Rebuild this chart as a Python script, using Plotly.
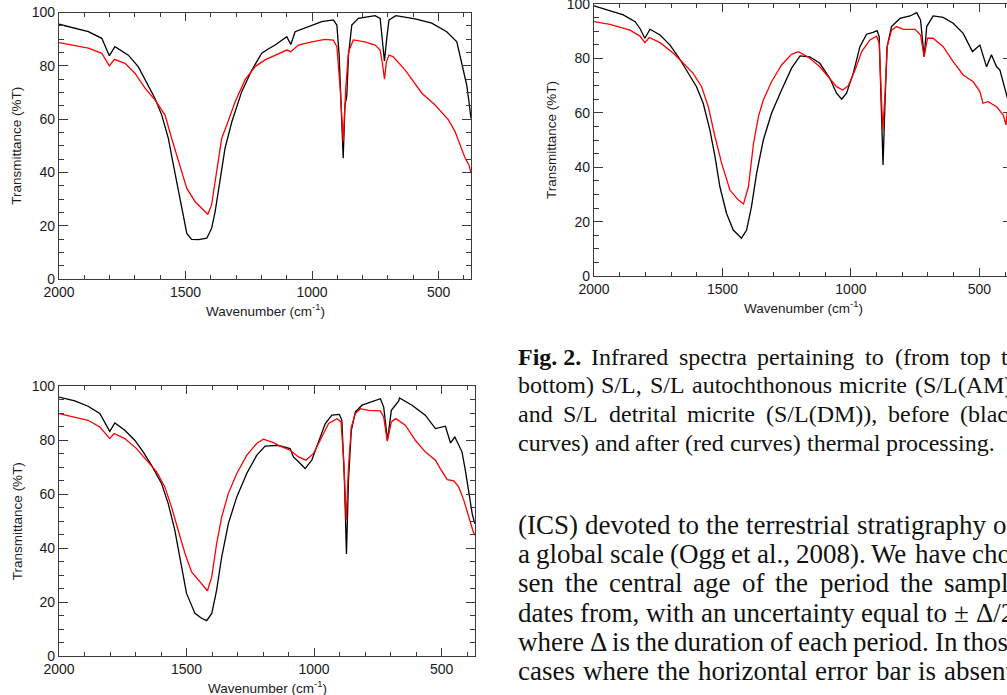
import plotly.graph_objects as go

W, H = 1024, 695          # figure is slightly wider than the 1007 px window (reference is cropped at the right)

# ---------------- data ----------------
# Panel 1 : S/L
p1_black_wn = [2000, 1884, 1831, 1801, 1779, 1726, 1687, 1647, 1621, 1594, 1568, 1548, 1528, 1509, 1495, 1476, 1449,
               1416, 1397, 1383, 1364, 1344, 1317, 1278, 1238, 1199, 1170, 1146, 1100, 1084, 1067, 1015, 962, 916, 902,
               893, 885, 877, 870, 863, 856, 843, 817, 751, 731, 722, 714, 705, 696, 669, 593, 527, 468, 428, 408, 389,
               380, 372]
p1_black_T = [95.6, 92.8, 90.3, 83.8, 87.2, 84.0, 79.7, 72.8, 67.8, 61.5, 52.8, 42.8, 32.8, 22.8, 17.1, 14.9, 14.8,
              15.3, 19.0, 25.3, 37.8, 49.0, 59.0, 70.3, 78.4, 84.7, 86.5, 87.8, 90.9, 88.0, 92.8, 94.7, 96.6, 97.2, 95.3,
              84.0, 61.5, 45.3, 65.3, 68.4, 84.0, 95.3, 97.8, 98.8, 97.8, 90.3, 81.8, 90.3, 97.2, 98.8, 97.6, 96.0, 92.8,
              89.0, 80.3, 72.8, 66.5, 60.3]
p1_red_wn = [2000, 1884, 1831, 1801, 1781, 1739, 1700, 1660, 1621, 1581, 1555, 1528, 1495, 1462, 1430, 1412, 1397,
             1377, 1357, 1337, 1304, 1265, 1225, 1186, 1146, 1100, 1084, 1054, 1001, 949, 916, 902, 889, 877, 867, 856,
             837, 791, 751, 731, 722, 714, 706, 696, 679, 632, 566, 514, 461, 435, 415, 395, 380, 372]
p1_red_T = [88.7, 86.6, 84.7, 80.0, 82.4, 80.9, 77.2, 71.6, 67.2, 61.5, 52.8, 44.0, 34.0, 29.0, 25.9, 24.3, 27.8,
            40.3, 52.8, 57.8, 66.5, 74.7, 79.7, 82.2, 84.0, 85.9, 85.3, 87.8, 89.0, 89.9, 89.6, 87.2, 71.6, 51.5, 71.6,
            85.3, 89.7, 89.0, 87.8, 85.9, 80.9, 75.0, 81.5, 84.0, 83.4, 78.4, 69.7, 65.3, 59.7, 55.3, 50.3, 45.3, 42.8,
            39.7]

# Panel 2 : S/L(AM)
p2_black_wn = [2000, 1938, 1886, 1840, 1821, 1802, 1782, 1743, 1704, 1672, 1639, 1601, 1575, 1549, 1529, 1510, 1484,
               1458, 1426, 1406, 1387, 1367, 1341, 1309, 1270, 1231, 1198, 1160, 1121, 1082, 1056, 1036, 1017, 991, 965,
               939, 914, 898, 890, 882, 875, 867, 859, 842, 809, 770, 744, 729, 715, 705, 680, 641, 602, 563, 527, 498,
               485, 472, 453, 433, 420, 404, 394, 380]
p2_black_T = [99.3, 97.5, 96.0, 93.5, 91.0, 87.4, 90.7, 88.6, 84.9, 80.6, 75.7, 69.6, 63.5, 53.7, 43.9, 32.8, 23.0,
              16.9, 13.9, 16.9, 25.5, 37.8, 50.0, 59.8, 68.4, 76.4, 80.9, 80.6, 78.2, 72.7, 67.2, 65.0, 67.2, 74.5, 84.3,
              88.9, 89.6, 90.2, 88.0, 64.7, 40.8, 64.7, 84.3, 91.7, 94.7, 95.6, 96.8, 94.1, 80.6, 91.7, 95.6, 95.1, 92.9,
              89.2, 82.5, 84.9, 81.3, 76.9, 81.3, 76.9, 75.7, 69.6, 66.5, 62.0]
p2_red_wn = [2000, 1938, 1860, 1821, 1802, 1785, 1743, 1691, 1652, 1614, 1581, 1555, 1529, 1503, 1471, 1438, 1418,
             1399, 1379, 1360, 1341, 1309, 1270, 1231, 1205, 1165, 1121, 1082, 1056, 1032, 1010, 984, 958, 926, 900,
             890, 882, 876, 867, 859, 842, 822, 796, 750, 729, 715, 702, 680, 641, 602, 563, 524, 498, 486, 466, 433,
             407, 396, 392, 380]
p2_red_T = [93.5, 92.5, 90.4, 88.2, 85.8, 87.7, 85.8, 81.9, 78.2, 74.5, 69.6, 62.2, 51.2, 41.4, 31.6, 27.9, 26.5,
            32.8, 48.8, 58.6, 64.7, 71.4, 77.6, 81.5, 82.5, 80.4, 76.9, 72.7, 69.6, 68.4, 69.9, 75.7, 82.5, 86.8, 88.2,
            85.5, 64.7, 53.7, 67.2, 84.3, 90.4, 91.7, 90.7, 90.7, 88.6, 80.6, 87.4, 87.4, 84.3, 78.8, 73.9, 71.4, 67.8,
            63.5, 64.1, 62.2, 59.2, 55.5, 60.0, 53.0]

# Panel 3 : S/L(DM)
p3_black_wn = [2000, 1938, 1886, 1840, 1801, 1781, 1742, 1703, 1670, 1637, 1598, 1572, 1546, 1519, 1500, 1467, 1441,
               1421, 1401, 1382, 1362, 1336, 1303, 1264, 1225, 1192, 1159, 1140, 1094, 1081, 1061, 1035, 1009, 983, 956,
               930, 901, 891, 881, 873, 865, 854, 838, 812, 773, 740, 727, 712, 697, 668, 665, 616, 564, 524, 485, 465,
               448, 433, 420, 407, 391, 380, 370]
p3_black_T = [96.0, 94.6, 92.6, 89.9, 83.3, 86.4, 83.7, 80.0, 75.7, 70.7, 64.0, 56.6, 46.7, 33.1, 23.2, 15.8, 14.0,
              13.1, 15.8, 24.4, 36.8, 49.1, 59.0, 67.7, 74.4, 77.8, 78.1, 78.1, 76.9, 73.8, 72.0, 69.5, 72.6, 79.4, 86.2,
              89.3, 89.6, 87.4, 65.2, 37.8, 65.2, 83.7, 90.5, 93.0, 94.2, 95.4, 92.3, 80.0, 91.1, 94.6, 95.7, 93.0, 89.3,
              84.3, 85.2, 79.0, 81.2, 78.1, 75.7, 68.9, 60.3, 52.8, 49.1]
p3_red_wn = [2000, 1938, 1886, 1840, 1801, 1784, 1742, 1696, 1657, 1617, 1585, 1559, 1533, 1506, 1480, 1447, 1418,
             1401, 1382, 1362, 1336, 1303, 1264, 1225, 1199, 1159, 1140, 1094, 1061, 1032, 1002, 976, 943, 910, 894,
             883, 874, 865, 854, 838, 818, 786, 740, 727, 713, 697, 680, 642, 603, 564, 524, 505, 478, 452, 433, 413,
             394, 378, 370]
p3_red_T = [89.9, 88.6, 87.4, 84.9, 80.6, 82.5, 80.6, 76.9, 72.6, 68.3, 62.7, 55.3, 46.7, 38.0, 31.2, 27.5, 24.2,
            29.4, 41.7, 51.6, 60.3, 67.7, 74.4, 78.8, 80.4, 79.1, 78.1, 76.3, 73.8, 72.6, 75.1, 80.0, 86.2, 88.0, 86.8,
            71.4, 50.4, 70.1, 84.9, 89.9, 91.7, 91.1, 90.9, 88.6, 79.7, 86.8, 88.0, 85.6, 80.0, 75.7, 72.6, 69.5, 65.4,
            64.9, 62.7, 57.8, 51.6, 46.7, 44.8]

x_tick_vals = [2000, 1500, 1000, 500]
y_tick_vals = [0, 20, 40, 60, 80, 100]
x_title = "Wavenumber (cm<sup>-1</sup>)"
y_title = "Transmittance (%T)"

caption_lines = [
    ("Fig. 2. Infrared spectra pertaining to (from top to", True),
    ("bottom) S/L, S/L autochthonous micrite (S/L(AM))", True),
    ("and S/L detrital micrite (S/L(DM)), before (black", True),
    ("curves) and after (red curves) thermal processing.", False),
]
body_lines = [
    ("(ICS) devoted to the terrestrial stratigraphy on", True),
    ("a global scale (Ogg et al., 2008). We have cho-", True),
    ("sen the central age of the period the sample", True),
    ("dates from, with an uncertainty equal to \u00b1 \u0394/2,", True),
    ("where \u0394 is the duration of each period. In those", True),
    ("cases where the horizontal error bar is absent,", True),
]

# ---------------- layout geometry (pixels) ----------------
panels = [
    dict(l=59, r=471, t=12.5, b=279, xend=372, black=(p1_black_wn, p1_black_T), red=(p1_red_wn, p1_red_T)),
    dict(l=594, r=1012, t=4, b=276, xend=373, black=(p2_black_wn, p2_black_T), red=(p2_red_wn, p2_red_T)),
    dict(l=59, r=475, t=386.3, b=656, xend=369, black=(p3_black_wn, p3_black_T), red=(p3_red_wn, p3_red_T)),
]

fig = go.Figure()
AX = "#3a3a3a"
SANS = "Liberation Sans, Arial, sans-serif"
TICKFONT = dict(family=SANS, size=14, color="#1a1a1a")
annotations = []

for i, p in enumerate(panels, start=1):
    xa = "x" if i == 1 else f"x{i}"
    ya = "y" if i == 1 else f"y{i}"
    fig.add_trace(go.Scatter(x=p["black"][0], y=p["black"][1], mode="lines",
                             line=dict(color="black", width=1.3), xaxis=xa, yaxis=ya, showlegend=False))
    fig.add_trace(go.Scatter(x=p["red"][0], y=p["red"][1], mode="lines",
                             line=dict(color="#ff0000", width=1.3), xaxis=xa, yaxis=ya, showlegend=False))
    xkey = "xaxis" if i == 1 else f"xaxis{i}"
    ykey = "yaxis" if i == 1 else f"yaxis{i}"
    common = dict(showline=True, linecolor=AX, linewidth=1.2, mirror="allticks", ticks="inside",
                  tickcolor=AX, tickwidth=1.2, showgrid=False, zeroline=False, tickfont=TICKFONT,
                  automargin=False, fixedrange=True, ticklabeloverflow="allow")
    fig.update_layout(**{
        xkey: dict(domain=[p["l"] / W, p["r"] / W], range=[2000, p["xend"]], anchor=ya,
                   tickmode="array", tickvals=x_tick_vals, ticklen=8,
                   minor=dict(dtick=100, tick0=0, ticklen=4, ticks="inside", tickcolor=AX, tickwidth=1.2),
                   **common),
        ykey: dict(domain=[1 - p["b"] / H, 1 - p["t"] / H], range=[0, 100], anchor=xa,
                   tickmode="array", tickvals=y_tick_vals, ticklen=9,
                   minor=dict(dtick=5, tick0=0, ticklen=5, ticks="inside", tickcolor=AX, tickwidth=1.2),
                   **common),
    })
    cx = (p["l"] + p["r"]) / 2
    annotations.append(dict(text=x_title, x=cx / W, y=1 - (p["b"] + 31) / H, xref="paper", yref="paper",
                            showarrow=False, xanchor="center", yanchor="middle",
                            font=dict(family=SANS, size=13.5, color="#1a1a1a")))
    annotations.append(dict(text=y_title, x=(p["l"] - 42) / W, y=1 - (p["t"] + p["b"]) / 2 / H,
                            xref="paper", yref="paper", showarrow=False, textangle=-90,
                            xanchor="center", yanchor="middle",
                            font=dict(family=SANS, size=13.5, color="#1a1a1a")))

# ---------------- justified text (Times metrics) ----------------
TIMES = {' ': 250, '(': 333, ')': 333, ',': 250, '-': 333, '.': 250, '/': 278, 'A': 722, 'C': 667, 'D': 722,
         'F': 556, 'I': 333, 'L': 611, 'M': 889, 'O': 722, 'S': 556, 'W': 944, 'a': 444, 'b': 500, 'c': 444,
         'd': 500, 'e': 444, 'f': 333, 'g': 500, 'h': 500, 'i': 278, 'k': 500, 'l': 278, 'm': 778, 'n': 500,
         'o': 500, 'p': 500, 'r': 333, 's': 389, 't': 278, 'u': 500, 'v': 500, 'w': 722, 'x': 500, 'y': 500,
         'z': 444, '\u00b1': 564, '\u0394': 612}
for d in "0123456789":
    TIMES[d] = 500


def wwidth(word, size):
    return sum(TIMES.get(ch, 500) for ch in word) / 1000 * size


COL_L, COL_R = 517, 1019


def place_lines(lines, size, y0, dy):
    for k, (line, justify) in enumerate(lines):
        words = line.split(" ")
        if line.startswith("Fig. 2."):
            words = ["Fig. 2."] + words[2:]
        widths = [wwidth(w, size) for w in words]
        if justify and len(words) > 1:
            gap = (COL_R - COL_L - sum(widths)) / (len(words) - 1)
        else:
            gap = 0.25 * size
        x = COL_L
        yc = y0 + k * dy
        for w, ww in zip(words, widths):
            txt = "<b>" + w + "</b>" if w == "Fig. 2." else w
            annotations.append(dict(text=txt, x=x / W, y=1 - yc / H, xref="paper", yref="paper",
                                    showarrow=False, xanchor="left", yanchor="middle", borderpad=0,
                                    font=dict(family="Liberation Serif, Times New Roman, serif", size=size,
                                              color="#111111")))
            x += ww + gap


place_lines(caption_lines, 24, 357, 28.5)
place_lines(body_lines, 27, 525, 29.2)

fig.update_layout(width=W, height=H, margin=dict(l=0, r=0, t=0, b=0, autoexpand=False),
                  paper_bgcolor="white", plot_bgcolor="white", annotations=annotations)

fig.write_html("out.html", config={"displayModeBar": False},
               post_script="document.body.style.margin='0';document.body.style.overflow='hidden';")
